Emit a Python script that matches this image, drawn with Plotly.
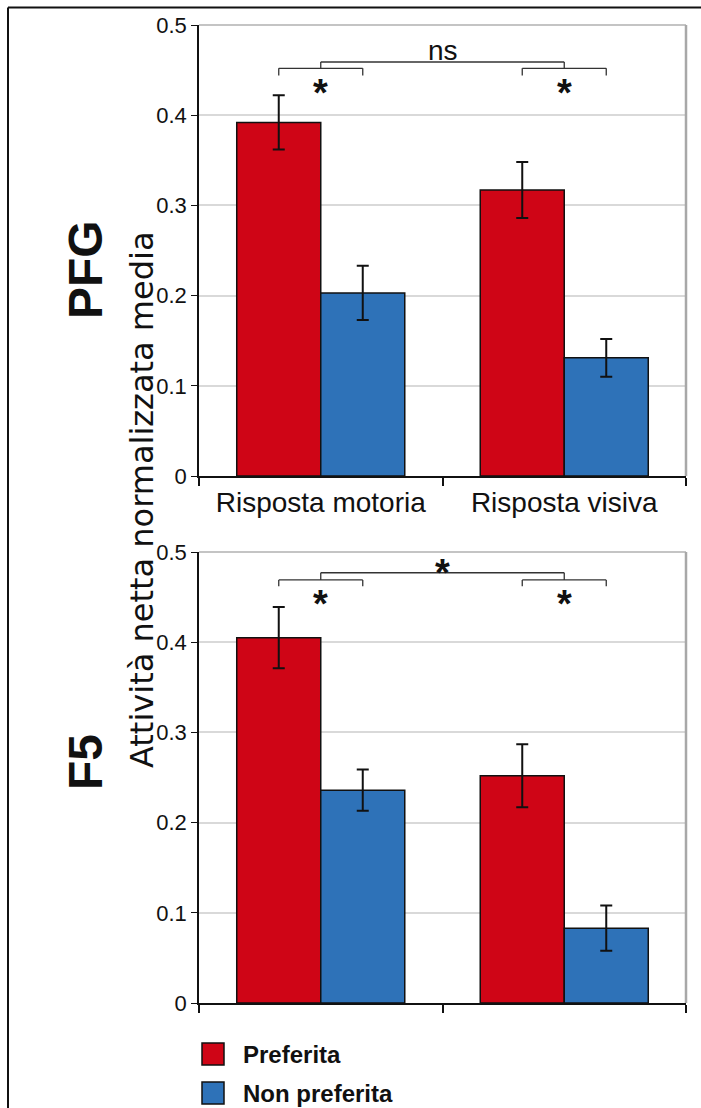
import plotly.graph_objects as go

categories = ["Risposta motoria", "Risposta visiva"]
series_names = ["Preferita", "Non preferita"]
series_colors = ["#CF0516", "#2E72B8"]

pfg_pref = [0.392, 0.317]
pfg_pref_err = [0.030, 0.031]
pfg_nonpref = [0.203, 0.131]
pfg_nonpref_err = [0.030, 0.021]

f5_pref = [0.405, 0.252]
f5_pref_err = [0.034, 0.035]
f5_nonpref = [0.236, 0.083]
f5_nonpref_err = [0.023, 0.025]

y_ticks = [0, 0.1, 0.2, 0.3, 0.4, 0.5]
y_ticktext = ["0", "0.1", "0.2", "0.3", "0.4", "0.5"]

panel_labels = ["PFG", "F5"]
y_title = "Attività netta normalizzata media"
# significance: (within cat 1, within cat 2, between)
pfg_sig = ["*", "*", "ns"]
f5_sig = ["*", "*", "*"]

W, H = 701, 1108
BARGAP = 0.31
SANS = "Liberation Sans, Arial, sans-serif"

def py(p):
    return 1 - p / H

def px(p):
    return p / W

xdom = [px(199), px(686)]
top_dom = [py(476), py(25)]
bot_dom = [py(1003), py(552)]

fig = go.Figure()

panels = [
    ("x", "y", pfg_pref, pfg_pref_err, pfg_nonpref, pfg_nonpref_err),
    ("x2", "y2", f5_pref, f5_pref_err, f5_nonpref, f5_nonpref_err),
]
for xa, ya, pv, pe, nv, ne in panels:
    for name, col, vals, errs in [(series_names[0], series_colors[0], pv, pe),
                                  (series_names[1], series_colors[1], nv, ne)]:
        fig.add_trace(go.Bar(
            x=categories, y=vals, name=name, xaxis=xa, yaxis=ya,
            marker=dict(color=col, line=dict(color="#111111", width=1.5)),
            error_y=dict(type="data", array=errs, visible=True,
                         color="#111111", thickness=2, width=6),
            showlegend=False,
        ))

axis_common_y = dict(
    range=[0, 0.5], tickvals=y_ticks, ticktext=y_ticktext,
    ticks="outside", ticklen=6, tickcolor="#111111", tickwidth=1,
    showline=True, linecolor="#111111", linewidth=1.5,
    showgrid=True, gridcolor="#D9D9D9", gridwidth=1.5,
    zeroline=False, tickfont=dict(family=SANS, size=22, color="#111111"),
    automargin=False, fixedrange=True,
)
axis_common_x = dict(
    type="category", categoryorder="array", categoryarray=categories,
    range=[-0.5, 1.5], tickson="boundaries", ticks="outside", ticklen=8,
    tickcolor="#111111", tickwidth=1.5,
    showline=True, linecolor="#111111", linewidth=2, showgrid=False,
    zeroline=False, automargin=False, fixedrange=True,
)

fig.update_layout(
    width=W, height=H, margin=dict(l=0, r=0, t=0, b=0, autoexpand=False),
    paper_bgcolor="white", plot_bgcolor="white",
    barmode="group", bargap=BARGAP, bargroupgap=0,
    showlegend=False,
    xaxis=dict(domain=xdom, anchor="y", **axis_common_x,
               tickfont=dict(family=SANS, size=28, color="#111111")),
    yaxis=dict(domain=top_dom, anchor="x", **axis_common_y),
    xaxis2=dict(domain=xdom, anchor="y2", showticklabels=False, **axis_common_x),
    yaxis2=dict(domain=bot_dom, anchor="x2", **axis_common_y),
)

shapes = []
annotations = []

# plot-area frame (top and right), light gray
for xa, ya in [("x", "y"), ("x2", "y2")]:
    shapes.append(dict(type="line", xref=f"{xa} domain", yref=f"{ya} domain",
                       x0=0, x1=1, y0=1, y1=1, line=dict(color="#B0B0B0", width=1.5)))
    shapes.append(dict(type="line", xref=f"{xa} domain", yref=f"{ya} domain",
                       x0=1, x1=1, y0=0, y1=1, line=dict(color="#A8A8A8", width=2.5)))

# significance brackets
off = (1 - BARGAP) / 4

def bracket(xa, ya, xl, xr, yh, yl):
    for (x0, y0, x1, y1) in [(xl, yl, xl, yh), (xl, yh, xr, yh), (xr, yh, xr, yl)]:
        shapes.append(dict(type="line", xref=xa, yref=ya, x0=x0, y0=y0, x1=x1, y1=y1,
                           line=dict(color="#333333", width=1.3)))

STAR_FONT = dict(family=SANS, size=38, color="#111111", weight="bold")

def sig_panel(xa, ya, sig, y_small, y_small_leg, y_big, y_star, y_between):
    for i in range(2):
        bracket(xa, ya, i - off, i + off, y_small, y_small_leg)
        annotations.append(dict(x=i, y=y_star, xref=xa, yref=ya, text=sig[i],
                                showarrow=False, yanchor="middle", font=STAR_FONT))
    bracket(xa, ya, 0, 1, y_big, y_small)
    is_star = sig[2] == "*"
    annotations.append(dict(x=0.5, y=y_between, xref=xa, yref=ya, text=sig[2],
                            showarrow=False, yanchor="middle",
                            font=STAR_FONT if is_star else dict(family=SANS, size=28, color="#111111")))

# star glyph sits high in its box, so its anchor is placed lower
sig_panel("x", "y", pfg_sig, 0.452, 0.444, 0.459, 0.425, 0.472)
sig_panel("x2", "y2", f5_sig, 0.469, 0.462, 0.477, 0.442, 0.477)

# panel labels
annotations.append(dict(x=px(85), y=py(270), xref="paper", yref="paper", text=panel_labels[0],
                        textangle=-90, showarrow=False, xanchor="center", yanchor="middle",
                        font=dict(family=SANS, size=48, color="#111111", weight="bold")))
annotations.append(dict(x=px(85), y=py(762), xref="paper", yref="paper", text=panel_labels[1],
                        textangle=-90, showarrow=False, xanchor="center", yanchor="middle",
                        font=dict(family=SANS, size=48, color="#111111", weight="bold")))
annotations.append(dict(x=px(142), y=py(500), xref="paper", yref="paper", text=y_title,
                        textangle=-90, showarrow=False, xanchor="center", yanchor="middle",
                        font=dict(family="DejaVu Sans, sans-serif", size=32, color="#111111")))

# legend
leg_y = [1054, 1093]
for name, col, yy in zip(series_names, series_colors, leg_y):
    shapes.append(dict(type="rect", xref="paper", yref="paper",
                       x0=px(202), x1=px(224), y0=py(yy + 11), y1=py(yy - 11),
                       fillcolor=col, line=dict(color="#111111", width=1.5)))
    annotations.append(dict(x=px(241), y=py(yy), xref="paper", yref="paper", text=name,
                            xanchor="left", yanchor="middle", showarrow=False,
                            font=dict(family=SANS, size=24, color="#111111", weight="bold")))

# outer frame (top and left)
shapes.append(dict(type="line", xref="paper", yref="paper", x0=px(8), x1=1, y0=py(7.5), y1=py(7.5),
                   line=dict(color="#111111", width=2)))
shapes.append(dict(type="line", xref="paper", yref="paper", x0=px(8), x1=px(8), y0=0, y1=py(7.5),
                   line=dict(color="#111111", width=2)))

fig.update_layout(shapes=shapes, annotations=annotations)
fig.write_html("out.html")
